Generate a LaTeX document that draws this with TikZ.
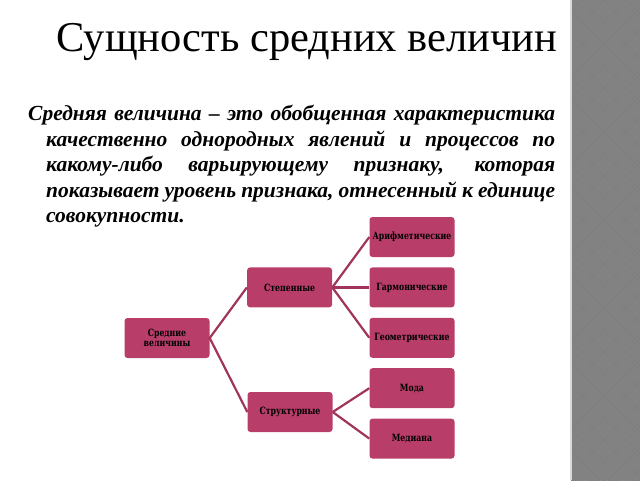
\documentclass[tikz,border=0pt]{standalone}
\usepackage{fontspec}
\setmainfont{Liberation Serif}
\newfontfamily\boxfont[FakeStretch=0.78]{DejaVu Serif}
\usetikzlibrary{positioning}
\definecolor{rosebox}{RGB}{184,61,104}
\definecolor{roseline}{RGB}{160,52,92}
\definecolor{stripdark}{RGB}{104,104,104}
\definecolor{striplight}{RGB}{130,130,130}

\begin{document}
\begin{tikzpicture}
    [x=1pt, y=-1pt,
    % STYLES
    % The vel style is used to draw the kinds of averages
    vel/.style={rectangle, rounded corners=3pt, fill=rosebox, inner sep=1pt, minimum width=85pt, minimum height=40pt, align=center, font=\boxfont\bfseries\fontsize{10}{10.5}\selectfont},
    % The link style is used to draw the branches between the boxes
    link/.style={draw=roseline, line width=2.2pt}]

    \useasboundingbox (0,0) rectangle (640,480);

    % Draw the strip on the right
    \begin{scope}
    \clip (571,0) rectangle (640,480);
    \fill[stripdark] (571,0) rectangle (640,480);
    \foreach \i in {0,...,3}
      \foreach \j in {0,...,22} {
        \fill[striplight] (571+22*\i,22*\j-11) -- ++(11,11) -- ++(-11,11) -- ++(-11,-11) -- cycle;
        \fill[striplight] (582+22*\i,22*\j) -- ++(11,11) -- ++(-11,11) -- ++(-11,-11) -- cycle;
      }
    \end{scope}
    \draw[gray!30, line width=1.5pt] (571,0) -- (571,480);

    % Draw title and definition
    \node [anchor=base] (title) at (307,51) {\fontsize{42.5}{46}\selectfont Сущность средних величин};
    \node [anchor=north west, inner sep=0pt] (def) at (28,105)
      {\begin{minipage}{527pt}
      \bfseries\itshape\fontsize{21.5}{25.5}\selectfont
      \hangindent=18pt\hangafter=1\hyphenpenalty=10000
      Средняя величина – это обобщенная характеристика\linebreak
      качественно однородных явлений и процессов по\linebreak
      какому-либо варьирующему признаку, которая\linebreak
      показывает уровень признака, отнесенный к единице\linebreak
      совокупности.
      \end{minipage}};

    % Draw boxes
    \node [vel] (arif) at (412,237) {Арифметические};
    \node [vel, below=10pt of arif] (garm) {Гармонические};
    \node [vel, below=10pt of garm] (geom) {Геометрические};
    \node [vel, below=10pt of geom] (moda) {Мода};
    \node [vel, below=10pt of moda] (med) {Медиана};
    \node [vel, left=37pt of garm] (step) {Степенные};
    \node [vel] (strukt) at (290,412) {Структурные};
    \node [vel] (sred) at (167,338) {Средние\\величины};

    % Draw the links between boxes
    \path[link]
    (sred.east) edge (step.west)
    (sred.east) edge (strukt.west)
    (step.east) edge (arif.west)
    (step.east) edge (garm.west)
    (step.east) edge (geom.west)
    (strukt.east) edge (moda.west)
    (strukt.east) edge (med.west);
\end{tikzpicture}
\end{document}
